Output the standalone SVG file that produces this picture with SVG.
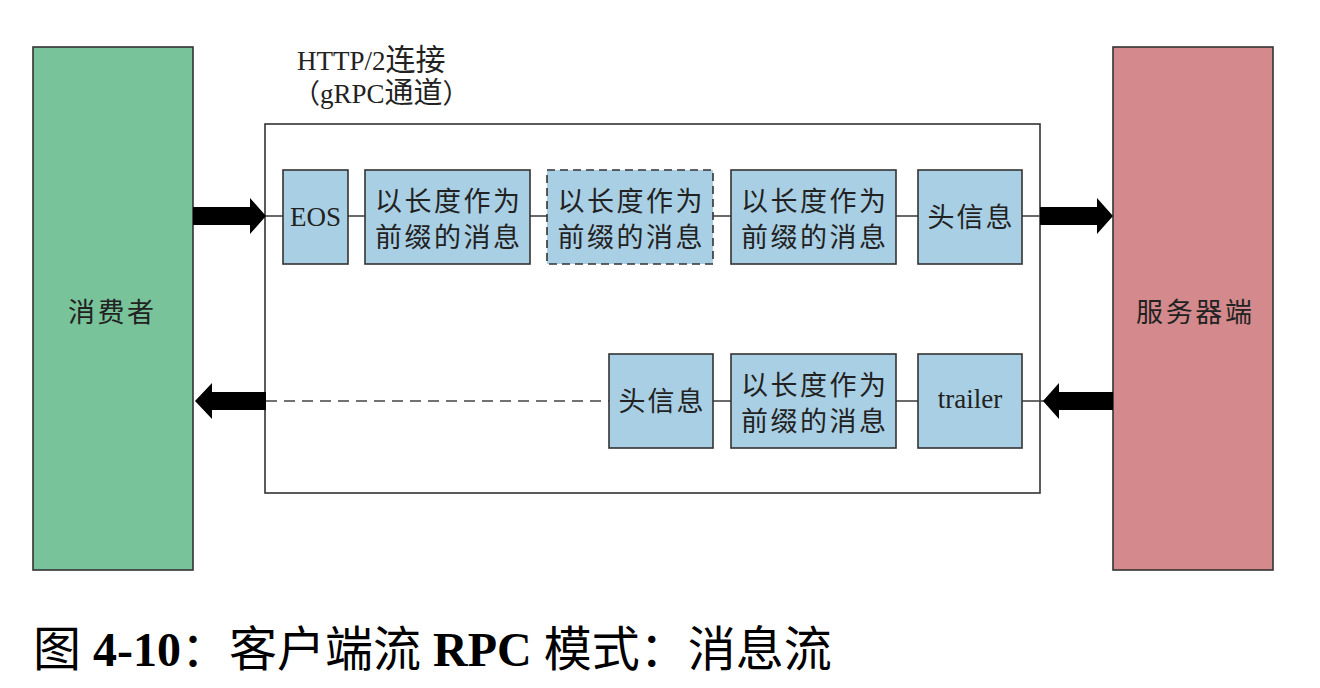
<svg xmlns="http://www.w3.org/2000/svg" width="1320" height="688" viewBox="0 0 1320 688">
<style>
.end{stroke:#333;stroke-width:1.6}
.box{fill:#A9CFE4;stroke:#333;stroke-width:1.6}
.dash{stroke-dasharray:8,5}
.cn{font-family:"Liberation Serif","Noto Sans CJK SC",serif;font-size:27px;fill:#222;text-anchor:middle}
.en{font-family:"Liberation Serif","Noto Sans CJK SC",serif;font-size:27px;fill:#222;text-anchor:middle}
.lbl{font-family:"Liberation Serif","Noto Sans CJK SC",serif;font-size:27px;fill:#222}
.ln{stroke:#444;stroke-width:1.6;fill:none}
.arr{fill:#000}
.cap{font-family:"Liberation Serif","Noto Sans CJK SC",serif;font-size:48px;fill:#000}
</style>
<rect width="1320" height="688" fill="#fff"/>
<g id="consumer">
<rect class="end" x="33" y="47" width="160" height="523" fill="#79C39A"/>
<text class="cn" x="111" y="322" textLength="86" lengthAdjust="spacing">消费者</text>
</g>
<g id="server">
<rect class="end" x="1113" y="47" width="160" height="523" fill="#D48A8C"/>
<text class="cn" x="1194" y="322" textLength="116" lengthAdjust="spacing">服务器端</text>
</g>
<g id="channel">
<rect x="265" y="124" width="775" height="369" fill="none" stroke="#333" stroke-width="1.6"/>
<text class="lbl" x="297" y="70">HTTP/2<tspan font-size="30">连接</tspan></text>
<text class="lbl" x="293" y="103">（gRPC<tspan font-size="29">通道</tspan>）</text>
</g>
<g id="connectors">
<line class="ln" x1="264" y1="216" x2="283" y2="216"/>
<line class="ln" x1="348" y1="216" x2="365" y2="216"/>
<line class="ln" x1="530" y1="216" x2="547" y2="216"/>
<line class="ln" x1="713" y1="216" x2="731" y2="216"/>
<line class="ln" x1="896" y1="216" x2="918" y2="216"/>
<line class="ln" x1="1022" y1="216" x2="1040" y2="216"/>
<line class="ln" x1="266" y1="401" x2="609" y2="401" stroke-dasharray="11,7"/>
<line class="ln" x1="713" y1="401" x2="731" y2="401"/>
<line class="ln" x1="896" y1="401" x2="918" y2="401"/>
<line class="ln" x1="1022" y1="401" x2="1044" y2="401"/>
<polygon class="arr" points="193,207 250,207 250,198 266,216 250,234 250,225 193,225"/>
<polygon class="arr" points="1040,207 1097,207 1097,198 1113,216 1097,234 1097,225 1040,225"/>
<polygon class="arr" points="266,392 212,392 212,383 195,401 212,419 212,410 266,410"/>
<polygon class="arr" points="1113,392 1059,392 1059,383 1043,401 1059,419 1059,410 1113,410"/>
</g>
<g id="eos">
<rect class="box" x="283" y="170" width="65" height="94"/>
<text class="en" x="315.5" y="226">EOS</text>
</g>
<g id="msg1">
<rect class="box" x="365" y="170" width="165" height="94"/>
<text class="cn" x="447.5" y="211" textLength="145" lengthAdjust="spacing">以长度作为</text>
<text class="cn" x="447.5" y="247" textLength="145" lengthAdjust="spacing">前缀的消息</text>
</g>
<g id="msg2">
<rect class="box dash" x="547" y="170" width="166" height="94"/>
<text class="cn" x="630" y="211" textLength="145" lengthAdjust="spacing">以长度作为</text>
<text class="cn" x="630" y="247" textLength="145" lengthAdjust="spacing">前缀的消息</text>
</g>
<g id="msg3">
<rect class="box" x="731" y="170" width="165" height="94"/>
<text class="cn" x="813.5" y="211" textLength="145" lengthAdjust="spacing">以长度作为</text>
<text class="cn" x="813.5" y="247" textLength="145" lengthAdjust="spacing">前缀的消息</text>
</g>
<g id="header1">
<rect class="box" x="918" y="170" width="104" height="94"/>
<text class="cn" x="970" y="227" textLength="85" lengthAdjust="spacing">头信息</text>
</g>
<g id="header2">
<rect class="box" x="609" y="354" width="104" height="94"/>
<text class="cn" x="661" y="411" textLength="85" lengthAdjust="spacing">头信息</text>
</g>
<g id="msg4">
<rect class="box" x="731" y="354" width="165" height="94"/>
<text class="cn" x="813.5" y="395" textLength="145" lengthAdjust="spacing">以长度作为</text>
<text class="cn" x="813.5" y="431" textLength="145" lengthAdjust="spacing">前缀的消息</text>
</g>
<g id="trailer">
<rect class="box" x="918" y="354" width="104" height="94"/>
<text class="en" x="970" y="408">trailer</text>
</g>
<text class="cap" x="33" y="666">图 <tspan font-weight="bold">4-10</tspan>：客户端流 <tspan font-weight="bold">RPC</tspan> 模式：消息流</text>
</svg>
